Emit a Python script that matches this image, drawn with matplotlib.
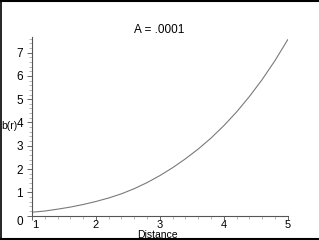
import matplotlib
matplotlib.use("Agg")
import matplotlib.pyplot as plt
from matplotlib.ticker import MultipleLocator
from matplotlib.lines import Line2D

# valores
distancia = [1.0, 1.2, 1.4, 1.6, 1.8, 2.0, 2.2, 2.4, 2.6, 2.8, 3.0,
             3.2, 3.4, 3.6, 3.8, 4.0, 4.2, 4.4, 4.6, 4.8, 5.0]
b_r = [0.15, 0.20, 0.28, 0.37, 0.48, 0.61, 0.76, 0.94, 1.16, 1.42, 1.72,
       2.06, 2.44, 2.86, 3.33, 3.86, 4.45, 5.11, 5.84, 6.65, 7.55]
xticks = [1, 2, 3, 4, 5]
yticks = [0, 1, 2, 3, 4, 5, 6, 7]

plt.rcParams["font.family"] = ["Liberation Sans", "DejaVu Sans"]

fig = plt.figure(figsize=(3.19, 2.40), dpi=100)
ax = fig.add_axes([32 / 319, 1 - 215.7 / 240, (287.7 - 32) / 319, (215.7 - 36.7) / 240])

ax.plot(distancia, b_r, color="#7a7a7a", linewidth=0.8)

ax.set_xlim(1, 5)
ax.set_ylim(0, 7.68)
ax.set_xticks(xticks)
ax.set_yticks(yticks)
ax.xaxis.set_minor_locator(MultipleLocator(0.2))
ax.yaxis.set_minor_locator(MultipleLocator(0.2))

for s in ["top", "right"]:
    ax.spines[s].set_visible(False)
for s in ["left", "bottom"]:
    ax.spines[s].set_color("#555555")
    ax.spines[s].set_linewidth(0.8)

ax.tick_params(which="major", length=3.5, width=0.7, color="#666666", labelsize=8.5)
ax.tick_params(which="minor", length=2, width=0.5, color="#999999")
ax.tick_params(axis="x", pad=0, length=3, labelsize=8)
ax.tick_params(axis="y", pad=3)

# el 1 y el 0 van corridos como en el original
ax.get_xticklabels()[0].set_ha("left")
ax.get_yticklabels()[0].set_va("top")

# detalles
fig.text(159 / 319, 1 - 30 / 240, "A = .0001", ha="center", va="center", fontsize=8.5)
fig.text(157.5 / 319, 1 - 239.5 / 240, "Distance", ha="center", va="bottom", fontsize=7.5)
fig.text(1.5 / 319, 1 - 126 / 240, "b(r)", ha="left", va="center", fontsize=7.5)

# marco negro
fig.add_artist(Line2D([0, 1], [0.997, 0.997], transform=fig.transFigure, color="black", linewidth=1.5))
fig.add_artist(Line2D([0.002, 0.002], [0, 1], transform=fig.transFigure, color="black", linewidth=1.2))
fig.add_artist(Line2D([0, 1], [0.006, 0.006], transform=fig.transFigure, color="black", linewidth=1.5))

plt.savefig("out.png", dpi=100)
